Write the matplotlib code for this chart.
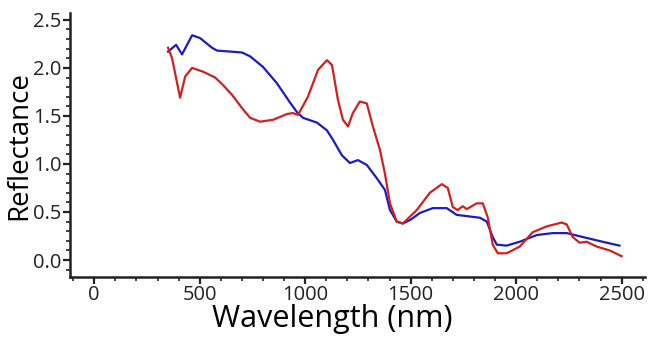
import matplotlib
matplotlib.use("Agg")
import matplotlib.pyplot as plt
from matplotlib.ticker import MultipleLocator

# Spectral reflectance of two samples
blue_wl = [350, 388, 416, 464, 502, 558, 582, 644, 701, 739, 800, 866, 928, 961, 990,
           1056, 1103, 1132, 1174, 1212, 1250, 1292, 1340, 1378, 1402, 1434, 1463,
           1500, 1544, 1605, 1671, 1718, 1828, 1861, 1889, 1908, 1955, 2017, 2098,
           2173, 2240, 2315, 2410, 2490]
blue_refl = [2.17, 2.24, 2.14, 2.34, 2.31, 2.21, 2.18, 2.17, 2.16, 2.12, 2.01, 1.84,
             1.64, 1.54, 1.48, 1.43, 1.35, 1.25, 1.09, 1.01, 1.04, 0.99, 0.85, 0.73,
             0.52, 0.40, 0.38, 0.42, 0.49, 0.54, 0.54, 0.47, 0.44, 0.40, 0.24, 0.16,
             0.15, 0.19, 0.26, 0.28, 0.28, 0.24, 0.19, 0.15]

red_wl = [350, 369, 407, 431, 464, 516, 573, 611, 653, 701, 739, 786, 848, 914, 942,
          966, 1013, 1061, 1103, 1127, 1155, 1179, 1203, 1226, 1259, 1292, 1321, 1354,
          1378, 1402, 1434, 1463, 1529, 1591, 1648, 1676, 1700, 1723, 1747, 1766,
          1813, 1842, 1866, 1889, 1913, 1955, 2017, 2079, 2145, 2216, 2240, 2268,
          2301, 2334, 2382, 2443, 2500]
red_refl = [2.21, 2.10, 1.69, 1.91, 2.00, 1.96, 1.90, 1.82, 1.72, 1.58, 1.48, 1.44,
            1.46, 1.52, 1.53, 1.51, 1.70, 1.98, 2.08, 2.03, 1.67, 1.46, 1.39, 1.53,
            1.65, 1.63, 1.39, 1.15, 0.90, 0.59, 0.40, 0.38, 0.52, 0.70, 0.79, 0.75,
            0.55, 0.52, 0.56, 0.53, 0.59, 0.59, 0.44, 0.16, 0.07, 0.07, 0.14, 0.29,
            0.35, 0.39, 0.37, 0.24, 0.18, 0.19, 0.14, 0.10, 0.04]

x_ticks = [0, 500, 1000, 1500, 2000, 2500]
y_ticks = [0.0, 0.5, 1.0, 1.5, 2.0, 2.5]

plt.rcParams['font.family'] = ['Open Sans', 'DejaVu Sans']

fig = plt.figure(figsize=(6.5, 3.37), dpi=100)
ax = fig.add_axes([0.108, 0.178, 0.884, 0.783])

ax.plot(blue_wl, blue_refl, color='#1c1cc4', lw=1.6)
ax.plot(red_wl, red_refl, color='#d41f1f', lw=1.6)

ax.set_xlim(-114, 2610)
ax.set_ylim(-0.177, 2.57)
ax.set_xticks(x_ticks)
ax.set_xticklabels([str(t) for t in x_ticks])
ax.set_yticks(y_ticks)
ax.set_yticklabels([f"{t:.1f}" for t in y_ticks])
ax.xaxis.set_minor_locator(MultipleLocator(100))
ax.yaxis.set_minor_locator(MultipleLocator(0.1))

for side in ('top', 'right'):
    ax.spines[side].set_visible(False)
for side in ('left', 'bottom'):
    ax.spines[side].set_linewidth(1.8)
    ax.spines[side].set_color('#222222')

ax.tick_params(which='major', direction='out', length=5, width=1.6,
               labelsize=14.5, colors='#222222', pad=1)
ax.tick_params(which='minor', direction='out', length=3, width=1.2,
               colors='#222222')

ax.set_xlabel('Wavelength (nm)', fontsize=22, labelpad=0)
ax.xaxis.set_label_coords(0.456, -0.104, transform=ax.transAxes)
ax.xaxis.label.set_va('top')
ax.set_ylabel('Reflectance', fontsize=20, labelpad=0)

fig.savefig('out.png', dpi=100)
